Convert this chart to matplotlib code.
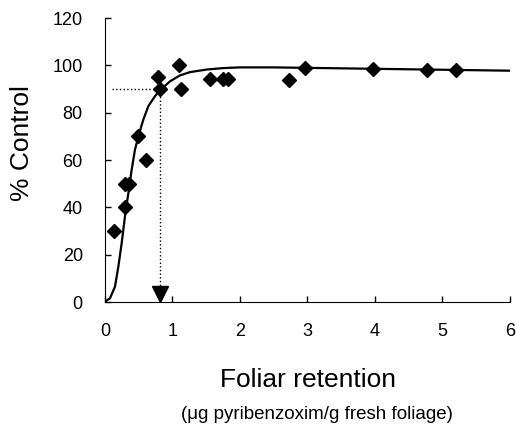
import matplotlib
matplotlib.use("Agg")
from matplotlib import pyplot as plt

plt.rcParams['font.family'] = ['Liberation Sans', 'DejaVu Sans']

# Puntos observados (retención foliar vs % control)
retencion = [0.14, 0.29, 0.30, 0.36, 0.49, 0.61, 0.79, 0.82, 1.10, 1.12,
             1.55, 1.75, 1.82, 2.72, 2.96, 3.97, 4.77, 5.20]
control = [30, 40, 50, 50, 70, 60, 95, 90, 100, 90,
           94.5, 94.5, 94.5, 94, 99, 98.6, 98.3, 98]

# Curva ajustada
curva_x = [0.0, 0.074, 0.148, 0.198, 0.247, 0.296, 0.346, 0.395, 0.444, 0.509,
           0.568, 0.642, 0.74, 0.825, 0.963, 1.11, 1.26, 1.51, 1.75, 2.0,
           2.5, 3.0, 4.0, 5.0, 6.0]
curva_y = [0.1, 1.6, 6.5, 15, 24.9, 36.2, 46, 55.9, 64.4, 71.5,
           77.1, 82.8, 87, 89.8, 93.3, 95.8, 97.2, 98.3, 98.9, 99.2,
           99.2, 99.0, 98.6, 98.2, 97.8]

# ED90
ed90_x = 0.82
ed90_y = 90
inicio_linea = 0.1

fig = plt.figure(figsize=(5.16, 4.33), dpi=100)
ax = fig.add_axes([0.2035, 0.3025, 0.7845, 0.6555])

ax.plot(curva_x, curva_y, color="black", lw=1.6)
ax.plot(retencion, control, "D", color="black", ms=7)

ax.plot([inicio_linea, ed90_x], [ed90_y, ed90_y], ":", color="black", lw=1)
ax.plot([ed90_x, ed90_x], [ed90_y, 4], ":", color="black", lw=1)
ax.plot([ed90_x], [3.5], "v", color="black", ms=11)

ax.set_xlim(0, 6)
ax.set_ylim(0, 120)
ax.set_xticks(range(0, 7))
ax.set_yticks(range(0, 121, 20))
ax.spines["top"].set_visible(False)
ax.spines["right"].set_visible(False)
ax.tick_params(direction="in", length=4, width=1, labelsize=13)
ax.tick_params(axis="x", pad=15)
ax.tick_params(axis="y", pad=16)

fig.text(0.043, 0.67, "% Control", fontsize=19, rotation=90,
         ha="center", va="center")
fig.text(0.597, 0.122, "Foliar retention", fontsize=19, ha="center", va="center")
fig.text(0.615, 0.043, "(μg pyribenzoxim/g fresh foliage)", fontsize=13.5,
         ha="center", va="center")

fig.savefig("out.png", dpi=100)
